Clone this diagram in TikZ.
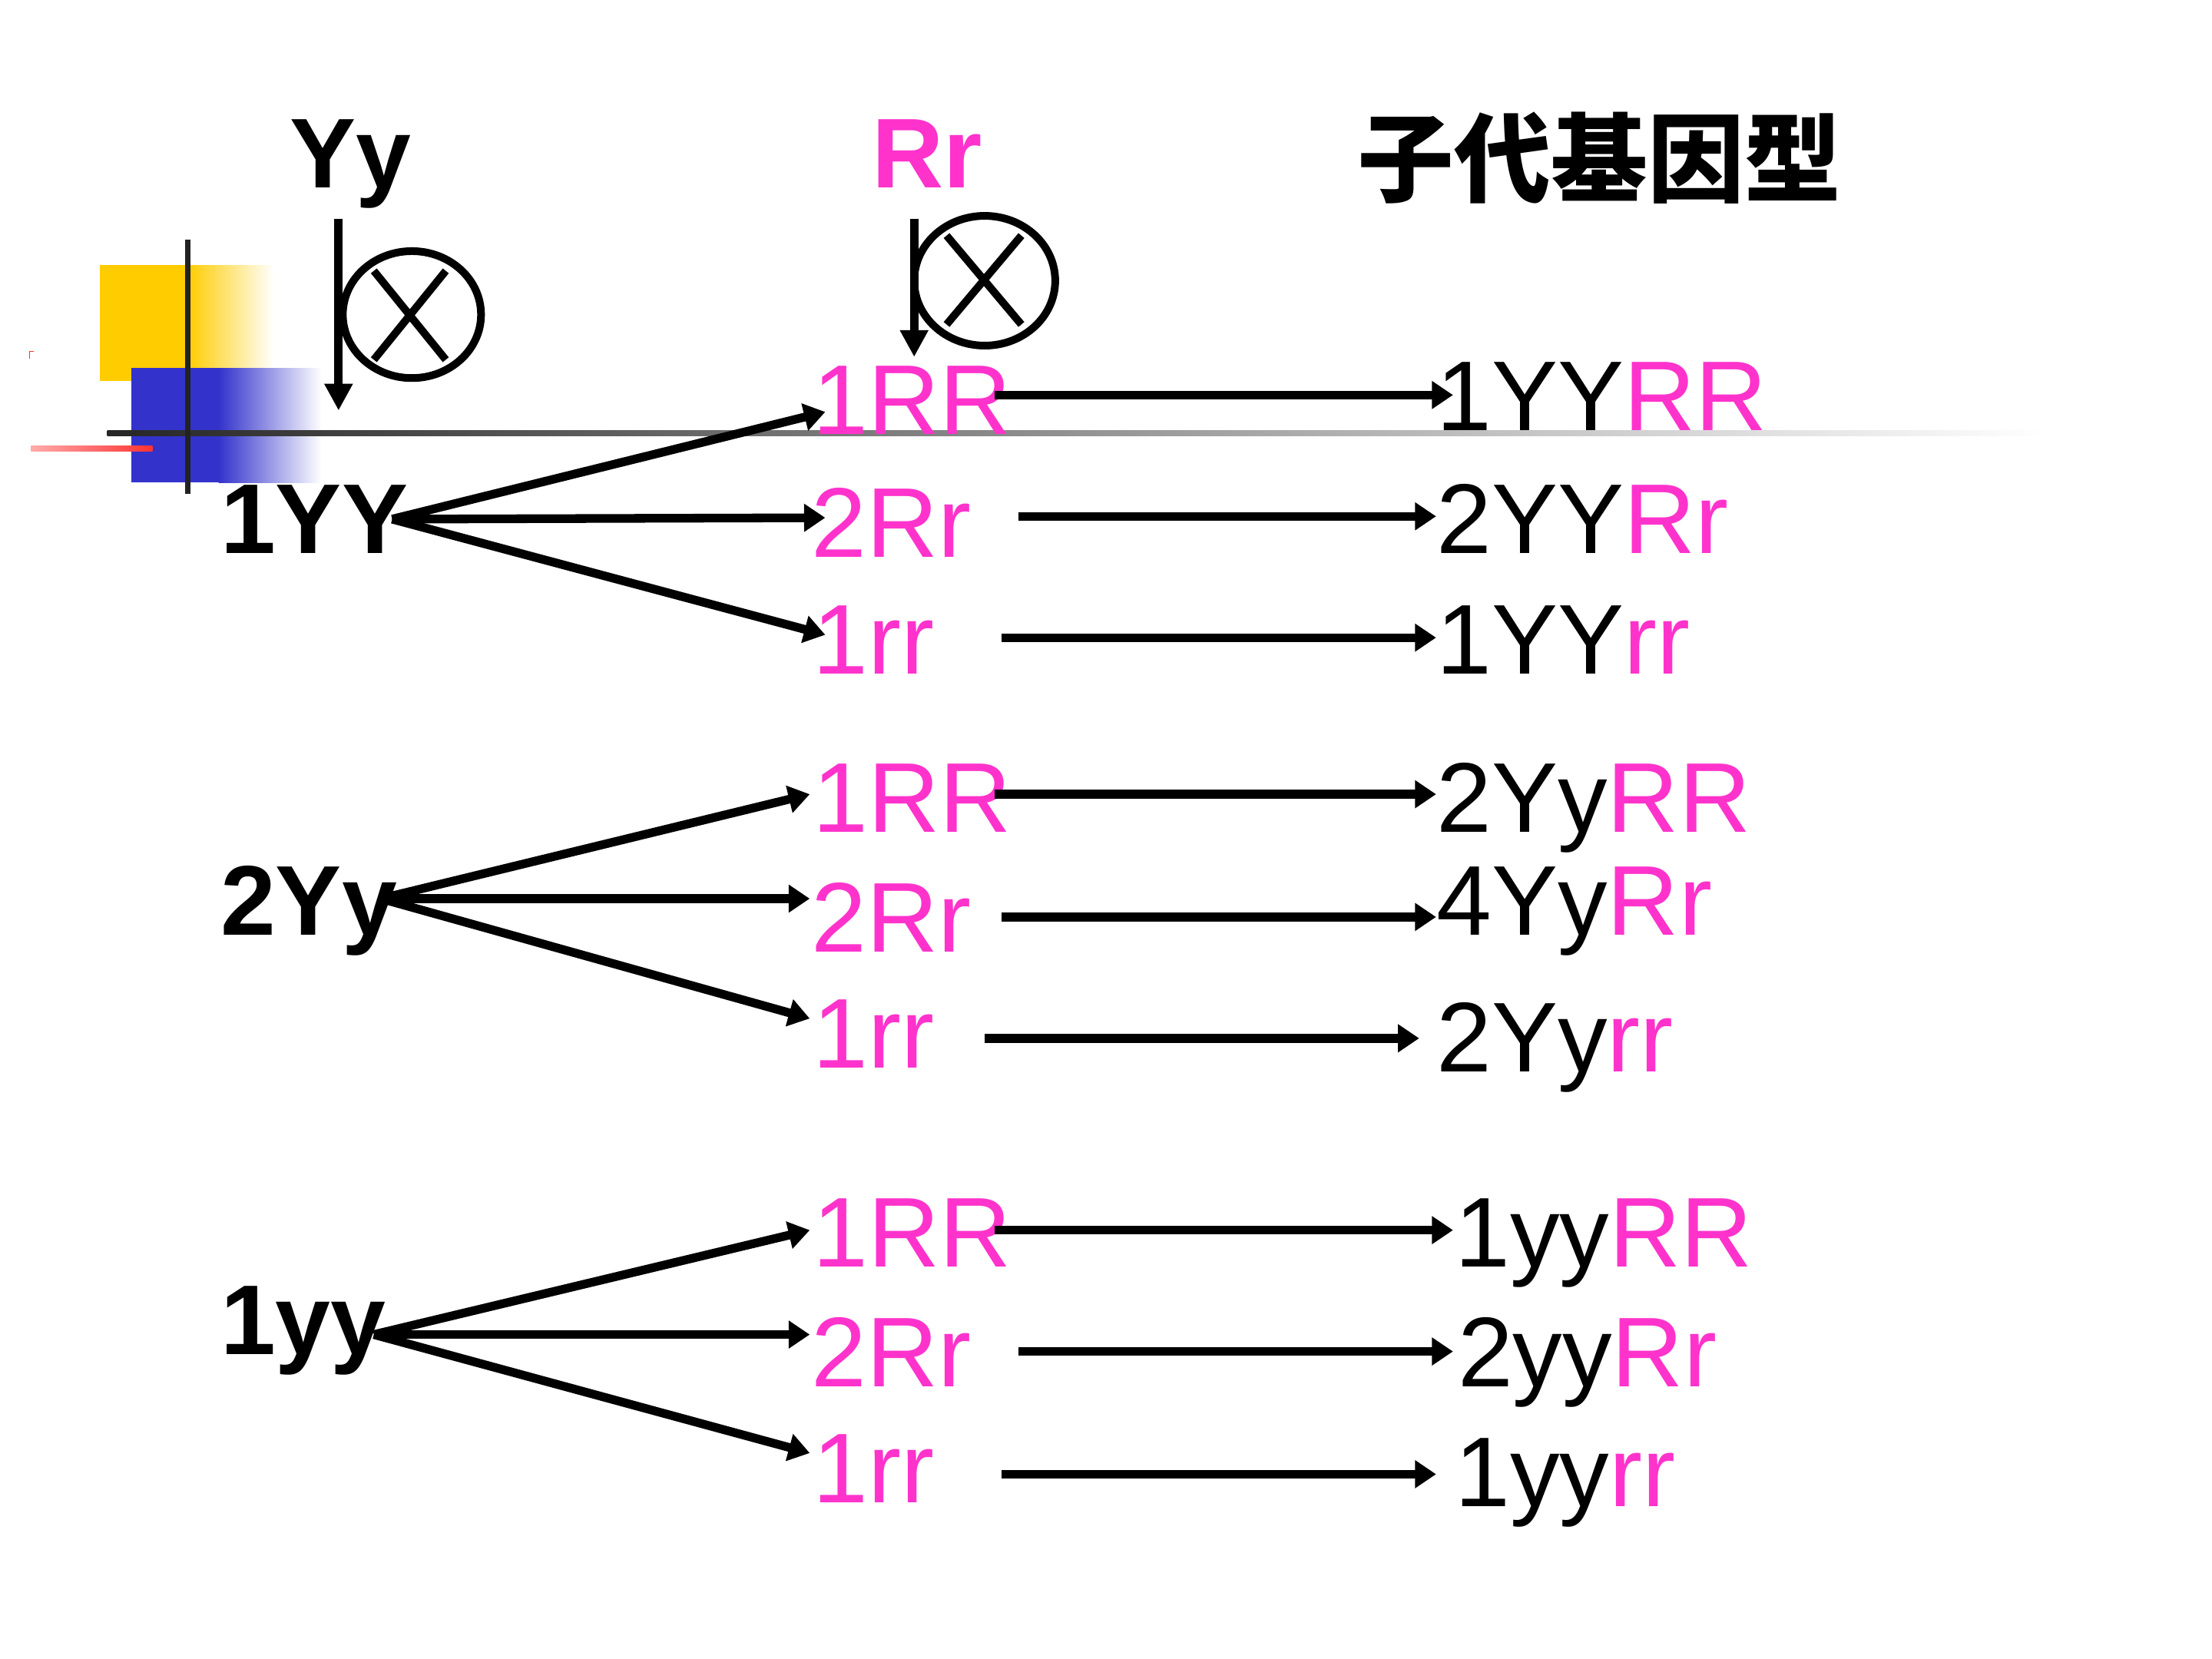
\documentclass[tikz,border=0pt]{standalone}
\usepackage{fontspec}
\setmainfont{Liberation Sans}
\newfontfamily\cjk{Noto Sans CJK SC}
\usetikzlibrary{arrows.meta}
\definecolor{pk}{RGB}{255,51,204}
\definecolor{tplyellow}{RGB}{255,204,0}
\definecolor{tplblue}{RGB}{51,51,204}
\definecolor{lightred}{RGB}{255,170,170}
\definecolor{strongred}{RGB}{255,51,51}
\definecolor{darkline}{RGB}{34,34,34}
\tikzset{
  lab/.style={anchor=base west, inner sep=0pt, font=\fontsize{40}{48}\selectfont},
  blab/.style={lab, font=\fontsize{40}{48}\selectfont\bfseries},
  arr/.style={line width=3.5pt, -{Triangle[length=0.3cm,width=0.38cm]}},
  xline/.style={line width=3.1pt},
  xarrow/.style={line width=3.4pt, -{Triangle[length=0.38cm,width=0.38cm]}}
}
\begin{document}
\begin{tikzpicture}[x=0.02cm,y=-0.02cm]
\useasboundingbox (0,0) rectangle (1568,1176);
\fill[white] (0,0) rectangle (1568,1176);

% template decoration
\fill[tplyellow] (71,188) rectangle (134,270);
\shade[left color=tplyellow, right color=white] (133,188) rectangle (194,270);
\fill[tplblue] (93,261) rectangle (156,342);
\shade[left color=tplblue, right color=white] (155,261) rectangle (228,342);
\shade[left color=black!85, right color=white] (76,305) rectangle (1450,309);
\shade[left color=lightred, right color=strongred] (22,316) rectangle (108,320);
\draw[strongred, line width=0.4pt] (21,254) -- (21,249) -- (24,249);
\draw[darkline, line width=2pt] (133,170) -- (133,350);

% headers
\node[blab] (hY) at (205,133) {Yy};
\node[blab, text=pk] (hR) at (618,133) {Rr};
\node[anchor=west, inner sep=0pt, font=\cjk\bfseries\fontsize{39}{46}\selectfont] (hC) at (962,112) {子代基因型};

% self-cross symbols
\coordinate (aY0) at (240,155); \coordinate (aY1) at (240,291);
\draw[xarrow] (aY0) -- (aY1);
\draw[xline] (292,223) ellipse [x radius=0.98cm, y radius=0.9cm];
\draw[xline] (265,192) -- (316,255) (316,192) -- (265,255);
\coordinate (aR0) at (648,155); \coordinate (aR1) at (648,253);
\draw[xarrow] (aR0) -- (aR1);
\draw[xline] (698,199) ellipse [x radius=1.0cm, y radius=0.92cm];
\draw[xline] (671,167) -- (724,230) (724,167) -- (671,230);

% group 1
\node[blab] (p1) at (156,392) {1YY};
\node[lab, text=pk] (m11) at (576,308) {1RR};
\node[lab, text=pk] (m12) at (575,395) {2Rr};
\node[lab, text=pk] (m13) at (576,478) {1rr};
\node[lab] (r11) at (1018,305) {1YY\textcolor{pk}{RR}};
\node[lab] (r12) at (1018,392) {2YY\textcolor{pk}{Rr}};
\node[lab] (r13) at (1018,478) {1YY\textcolor{pk}{rr}};

% group 2
\node[blab] (p2) at (156,663) {2Yy};
\node[lab, text=pk] (m21) at (576,590) {1RR};
\node[lab, text=pk] (m22) at (575,675) {2Rr};
\node[lab, text=pk] (m23) at (576,757) {1rr};
\node[lab] (r21) at (1018,590) {2Yy\textcolor{pk}{RR}};
\node[lab] (r22) at (1018,663) {4Yy\textcolor{pk}{Rr}};
\node[lab] (r23) at (1018,760) {2Yy\textcolor{pk}{rr}};

% group 3
\node[blab] (p3) at (156,960) {1yy};
\node[lab, text=pk] (m31) at (576,898) {1RR};
\node[lab, text=pk] (m32) at (575,983) {2Rr};
\node[lab, text=pk] (m33) at (576,1065) {1rr};
\node[lab] (r31) at (1031,898) {1yy\textcolor{pk}{RR}};
\node[lab] (r32) at (1033,983) {2yy\textcolor{pk}{Rr}};
\node[lab] (r33) at (1031,1068) {1yy\textcolor{pk}{rr}};

% connector points
\coordinate (s1) at (278,368);
\coordinate (t11) at (585,292); \coordinate (t12) at (585,367); \coordinate (t13) at (585,450);
\coordinate (u11) at (705,280); \coordinate (v11) at (1030,280);
\coordinate (u12) at (722,366); \coordinate (v12) at (1018,366);
\coordinate (u13) at (710,452); \coordinate (v13) at (1018,452);

\coordinate (s2) at (270,637);
\coordinate (t21) at (574,563); \coordinate (t22) at (574,637); \coordinate (t23) at (574,722);
\coordinate (u21) at (705,563); \coordinate (v21) at (1018,563);
\coordinate (u22) at (710,650); \coordinate (v22) at (1018,650);
\coordinate (u23) at (698,736); \coordinate (v23) at (1006,736);

\coordinate (s3) at (265,946);
\coordinate (t31) at (574,872); \coordinate (t32) at (574,946); \coordinate (t33) at (574,1030);
\coordinate (u31) at (705,872); \coordinate (v31) at (1030,872);
\coordinate (u32) at (722,958); \coordinate (v32) at (1030,958);
\coordinate (u33) at (710,1045); \coordinate (v33) at (1018,1045);

\foreach \g in {1,2,3}{
  \foreach \k in {1,2,3}{
    \draw[arr] (s\g) -- (t\g\k);
    \draw[arr] (u\g\k) -- (v\g\k);
  }
}
\end{tikzpicture}
\end{document}
